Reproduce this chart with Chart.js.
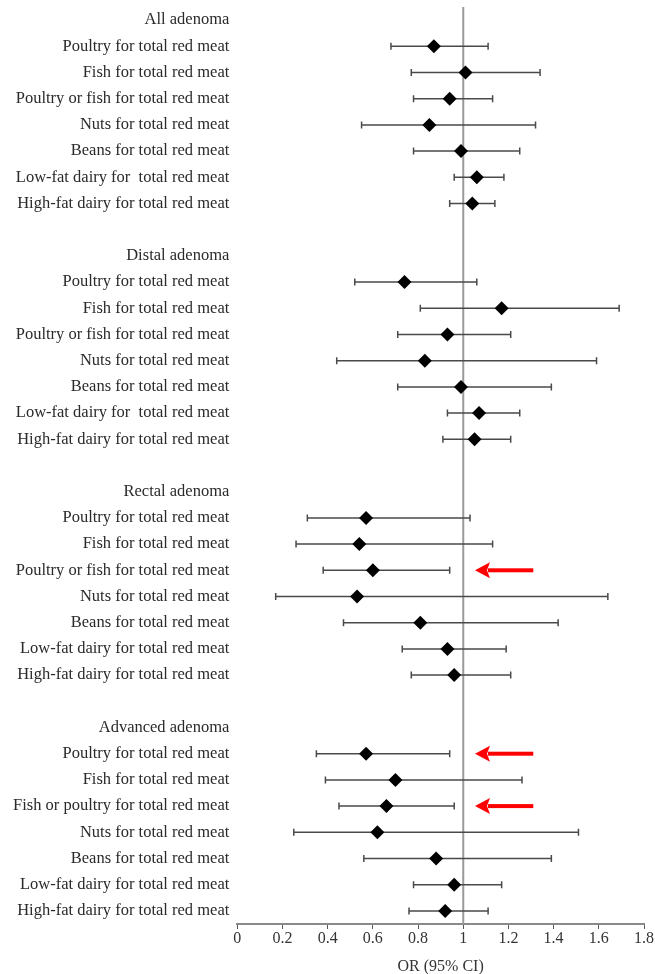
<!DOCTYPE html>
<html>
<head>
<meta charset="utf-8">
<script src="https://cdn.jsdelivr.net/npm/chart.js@4/dist/chart.umd.min.js"></script>
<style>
  html, body { margin: 0; padding: 0; background: #fff; }
  #wrap { width: 655px; height: 974px; position: relative; }
</style>
</head>
<body>
<div id="wrap"><canvas id="c" width="655" height="974"></canvas></div>
<script>
// ---- Data ----
const groupNames = ['All adenoma', 'Distal adenoma', 'Rectal adenoma', 'Advanced adenoma'];

const allLabels = ['Poultry for total red meat', 'Fish for total red meat', 'Poultry or fish for total red meat', 'Nuts for total red meat', 'Beans for total red meat', 'Low-fat dairy for  total red meat', 'High-fat dairy for total red meat'];
const distalLabels = ['Poultry for total red meat', 'Fish for total red meat', 'Poultry or fish for total red meat', 'Nuts for total red meat', 'Beans for total red meat', 'Low-fat dairy for  total red meat', 'High-fat dairy for total red meat'];
const rectalLabels = ['Poultry for total red meat', 'Fish for total red meat', 'Poultry or fish for total red meat', 'Nuts for total red meat', 'Beans for total red meat', 'Low-fat dairy for total red meat', 'High-fat dairy for total red meat'];
const advancedLabels = ['Poultry for total red meat', 'Fish for total red meat', 'Fish or poultry for total red meat', 'Nuts for total red meat', 'Beans for total red meat', 'Low-fat dairy for total red meat', 'High-fat dairy for total red meat'];

const allOR = [0.87, 1.01, 0.94, 0.85, 0.99, 1.06, 1.04];
const allLo = [0.68, 0.77, 0.78, 0.55, 0.78, 0.96, 0.94];
const allHi = [1.11, 1.34, 1.13, 1.32, 1.25, 1.18, 1.14];

const distalOR = [0.74, 1.17, 0.93, 0.83, 0.99, 1.07, 1.05];
const distalLo = [0.52, 0.81, 0.71, 0.44, 0.71, 0.93, 0.91];
const distalHi = [1.06, 1.69, 1.21, 1.59, 1.39, 1.25, 1.21];

const rectalOR = [0.57, 0.54, 0.60, 0.53, 0.81, 0.93, 0.96];
const rectalLo = [0.31, 0.26, 0.38, 0.17, 0.47, 0.73, 0.77];
const rectalHi = [1.03, 1.13, 0.94, 1.64, 1.42, 1.19, 1.21];

const advancedOR = [0.57, 0.70, 0.66, 0.62, 0.88, 0.96, 0.92];
const advancedLo = [0.35, 0.39, 0.45, 0.25, 0.56, 0.78, 0.76];
const advancedHi = [0.94, 1.26, 0.96, 1.51, 1.39, 1.17, 1.11];

// highlighted rows (group index, item index)
const arrowRows = [[2, 2], [3, 0], [3, 2]];
const arrowFrom = 1.31;   // tail (OR units)
const arrowTo = 1.052;    // tip (OR units)

const xTickLabels = ['0', '0.2', '0.4', '0.6', '0.8', '1', '1.2', '1.4', '1.6', '1.8'];
const refValue = 1;

// ---- Build rows ----
const groups = [
  { name: groupNames[0], labels: allLabels, or: allOR, lo: allLo, hi: allHi },
  { name: groupNames[1], labels: distalLabels, or: distalOR, lo: distalLo, hi: distalHi },
  { name: groupNames[2], labels: rectalLabels, or: rectalOR, lo: rectalLo, hi: rectalHi },
  { name: groupNames[3], labels: advancedLabels, or: advancedOR, lo: advancedLo, hi: advancedHi }
];
const rowLabels = [];
const points = [];
const bars = [];
const arrowYs = [];
groups.forEach((g, gi) => {
  if (gi > 0) rowLabels.push('');
  rowLabels.push(g.name);
  g.labels.forEach((lab, i) => {
    const r = rowLabels.length;
    rowLabels.push(lab);
    points.push({ x: g.or[i], y: r });
    bars.push({ lo: g.lo[i], hi: g.hi[i], y: r });
    if (arrowRows.some(a => a[0] === gi && a[1] === i)) arrowYs.push(r);
  });
});

const serif = "'Liberation Serif', 'Times New Roman', serif";

const forestPlugin = {
  id: 'forest',
  beforeDatasetsDraw(chart) {
    const { ctx, chartArea, scales: { x, y } } = chart;
    ctx.save();
    // reference line
    const rx = x.getPixelForValue(refValue);
    ctx.strokeStyle = '#9a9a9a';
    ctx.lineWidth = 2;
    ctx.beginPath();
    ctx.moveTo(rx, chartArea.top);
    ctx.lineTo(rx, chartArea.bottom);
    ctx.stroke();
    // error bars
    ctx.strokeStyle = '#4a4a4a';
    ctx.lineWidth = 1.5;
    bars.forEach(b => {
      const py = y.getPixelForValue(b.y);
      const x1 = x.getPixelForValue(b.lo);
      const x2 = x.getPixelForValue(b.hi);
      ctx.beginPath();
      ctx.moveTo(x1, py); ctx.lineTo(x2, py);
      ctx.moveTo(x1, py - 3.5); ctx.lineTo(x1, py + 3.5);
      ctx.moveTo(x2, py - 3.5); ctx.lineTo(x2, py + 3.5);
      ctx.stroke();
    });
    ctx.restore();
  },
  afterDatasetsDraw(chart) {
    const { ctx, scales: { x, y } } = chart;
    ctx.save();
    ctx.fillStyle = '#f00';
    arrowYs.forEach(r => {
      const py = y.getPixelForValue(r);
      const tip = x.getPixelForValue(arrowTo);
      const tail = x.getPixelForValue(arrowFrom);
      const headLen = 15, headHalf = 8;
      ctx.fillRect(tip + headLen - 2, py - 2, tail - tip - headLen + 2, 4);
      ctx.beginPath();
      ctx.moveTo(tip, py);
      ctx.lineTo(tip + headLen, py - headHalf);
      ctx.lineTo(tip + headLen - 3, py);
      ctx.lineTo(tip + headLen, py + headHalf);
      ctx.closePath();
      ctx.fill();
    });
    ctx.restore();
  }
};

new Chart(document.getElementById('c'), {
  type: 'scatter',
  data: {
    datasets: [{
      data: points,
      pointStyle: 'rectRot',
      pointRadius: 7,
      pointHoverRadius: 7,
      backgroundColor: '#000',
      borderColor: '#000',
      borderWidth: 0
    }]
  },
  options: {
    responsive: false,
    animation: false,
    events: [],
    layout: { padding: { top: 7, right: 11, left: 0, bottom: 0 } },
    plugins: { legend: { display: false }, tooltip: { enabled: false } },
    scales: {
      x: {
        type: 'linear',
        min: 0,
        max: 1.8,
        afterFit(s) { s.height = 50; s.paddingLeft = 0; s.paddingRight = 0; },
        afterBuildTicks(s) { s.ticks = xTickLabels.map(t => ({ value: parseFloat(t) })); },
        ticks: {
          autoSkip: false,
          maxRotation: 0,
          padding: 0,
          color: '#333',
          font: { family: serif, size: 16 },
          callback: (v, i) => xTickLabels[i]
        },
        grid: { drawOnChartArea: false, drawTicks: true, tickLength: 5, color: '#555', lineWidth: 1 },
        border: { display: true, color: '#8a8a8a', width: 2 },
        title: {
          display: true,
          text: 'OR (95% CI)',
          color: '#333',
          font: { family: serif, size: 16, lineHeight: 1 },
          padding: { top: 0, bottom: -1 }
        }
      },
      y: {
        type: 'linear',
        reverse: true,
        min: -0.5,
        max: rowLabels.length - 0.5,
        afterFit(s) { s.width = 237.3; s.paddingTop = 0; s.paddingBottom = 0; },
        afterBuildTicks(s) { s.ticks = rowLabels.map((_, i) => ({ value: i })); },
        ticks: {
          autoSkip: false,
          padding: 8,
          color: '#2a2a2a',
          font: { family: serif, size: 16.5 },
          callback: (v) => rowLabels[v]
        },
        grid: { display: false, drawTicks: false },
        border: { display: false }
      }
    }
  },
  plugins: [forestPlugin]
});
</script>
</body>
</html>
